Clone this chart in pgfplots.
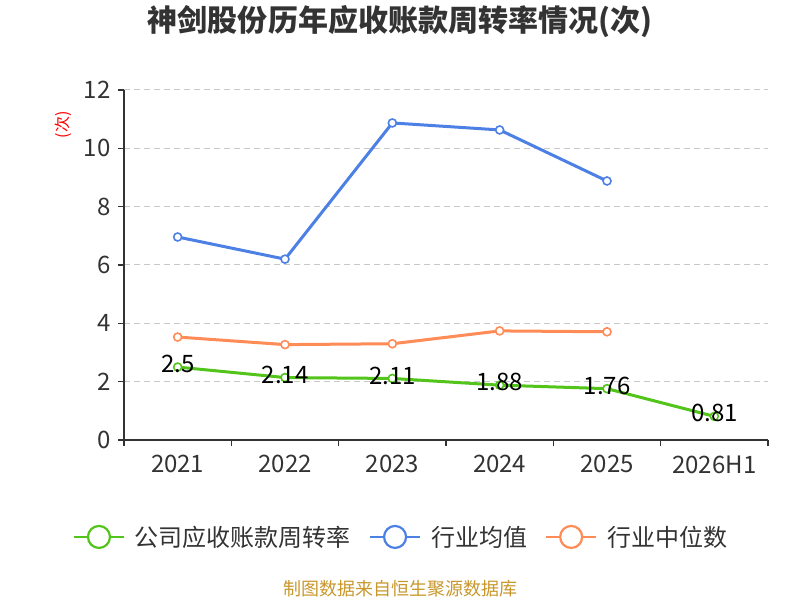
\documentclass[border=0pt]{standalone}
\usepackage{fontspec}
\setmainfont{Noto Sans CJK SC}
\usepackage{pgfplots}
\pgfplotsset{compat=1.18}
\definecolor{cgreen}{HTML}{52C41A}
\definecolor{cblue}{HTML}{4D80E4}
\definecolor{corange}{HTML}{FF8B57}
\definecolor{ctxt}{HTML}{333333}
\definecolor{cfoot}{HTML}{C8972C}
\definecolor{cgrid}{HTML}{C8C8C8}
\begin{document}
\begin{tikzpicture}[x=1bp,y=1bp]
\path[use as bounding box] (0,0) rectangle (800,600);
\begin{axis}[
  at={(124bp,160bp)}, anchor=south west,
  scale only axis, width=644bp, height=350bp,
  xmin=-0.5, xmax=5.5, ymin=0, ymax=12,
  axis x line=bottom, axis y line=left,
  axis line style={-, ctxt, line width=1.3bp},
  xtick={-0.5,0.5,...,5.5}, xticklabels={},
  extra x ticks={0,1,2,3,4,5},
  extra x tick labels={2021,2022,2023,2024,2025,2026H1},
  extra x tick style={major tick length=0bp, grid=none},
  ytick={0,2,...,12},
  ymajorgrids,
  grid style={cgrid, line width=1bp, dash pattern=on 6bp off 4bp},
  tick align=outside,
  major tick length=6bp,
  tick style={ctxt, line width=1.3bp},
  ticklabel style={font=\fontsize{24bp}{28bp}\selectfont, text=ctxt},
  xticklabel style={yshift=-12bp},
  yticklabel style={xshift=-4bp},
  /pgf/number format/assume math mode=true,
  legend columns=3,
  legend style={at={(0.4286,-0.277)}, anchor=center, draw=none, fill=none,
    font=\fontsize{24bp}{28bp}\selectfont, text=ctxt,
    nodes={inner xsep=0bp},
    /tikz/every even column/.append style={column sep=18bp}},
  legend image code/.code={
    \path[draw=none, fill=none] (0bp,0bp) rectangle (61bp,1bp);
    \draw[#1, mark=none, line width=2.2bp] (0bp,0bp) -- (50bp,0bp);
    \draw[#1, mark=none, fill=white, line width=2.2bp] (25bp,0bp) circle (11bp);
  },
  every axis plot/.append style={line width=3bp, mark=*, mark size=4bp,
    mark options={fill=white, line width=1.6bp}},
]
\addplot[color=cgreen,
  nodes near coords, point meta=explicit symbolic,
  every node near coord/.append style={anchor=center, yshift=3bp, text=black,
    font=\fontsize{24bp}{28bp}\selectfont}]
  coordinates {(0,2.5)[2.5] (1,2.14)[2.14] (2,2.11)[2.11] (3,1.88)[1.88] (4,1.76)[1.76] (5,0.81)[0.81]};
\addlegendentry{公司应收账款周转率}
\addplot[color=cblue] coordinates {(0,6.96) (1,6.20) (2,10.87) (3,10.63) (4,8.88)};
\addlegendentry{行业均值}
\addplot[color=corange] coordinates {(0,3.53) (1,3.27) (2,3.30) (3,3.74) (4,3.71)};
\addlegendentry{行业中位数}
\end{axis}
\node[font=\fontsize{30bp}{34bp}\selectfont\bfseries, text=ctxt] at (400,578) {神剑股份历年应收账款周转率情况(次)};
\node[font=\fontsize{16bp}{19bp}\selectfont, text=red, rotate=90] at (63,475) {(次)};
\node[font=\fontsize{18bp}{21bp}\selectfont, text=cfoot] at (400,11) {制图数据来自恒生聚源数据库};
\end{tikzpicture}
\end{document}
